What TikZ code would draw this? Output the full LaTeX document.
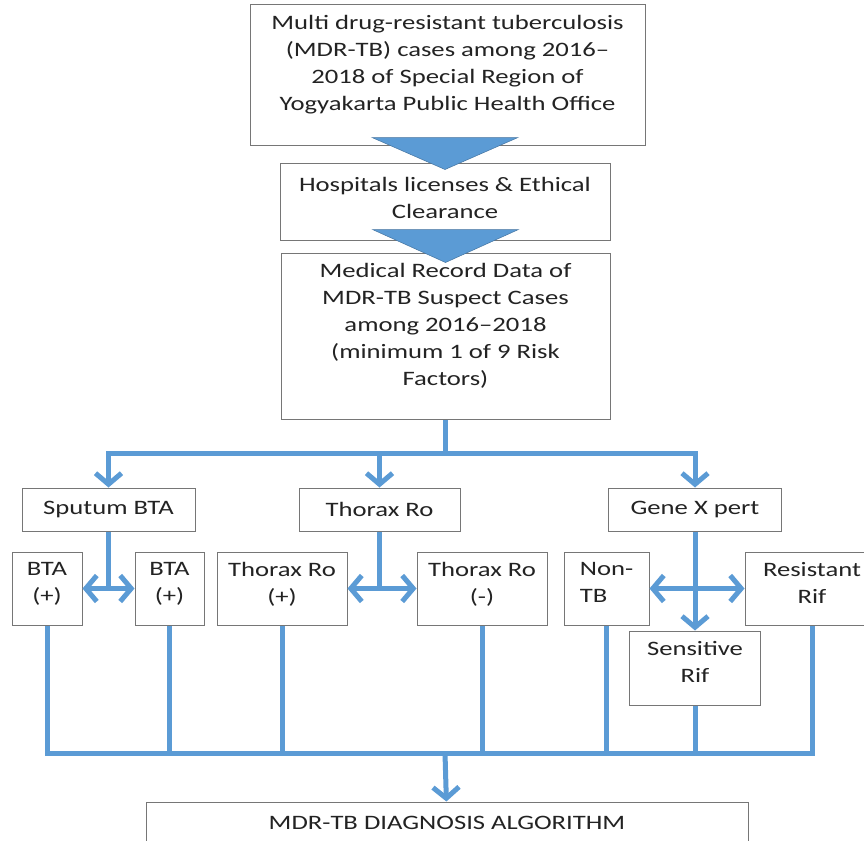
\documentclass[tikz,border=0pt]{standalone}
\usepackage{fontspec}
\setmainfont[FakeStretch=1.3]{Carlito}
\usetikzlibrary{arrows.meta,calc}
\definecolor{flowblue}{RGB}{91,155,213}
\definecolor{framegray}{RGB}{118,118,118}
\definecolor{textgray}{RGB}{35,35,35}

\begin{document}
\begin{tikzpicture}[x=1pt, y=-1pt,
	every node/.style={font=\fontsize{20.5}{27}\selectfont, text=textgray},
	box/.style={draw=framegray, line width=1pt, fill=white, inner sep=0pt},
	boxlabel/.style={anchor=north, align=center, inner xsep=0pt, inner ysep=11pt},
	intext/.style={label={[boxlabel]north:{#1}}},
	flow/.style={draw=flowblue, line width=5pt},
	>={Straight Barb[length=11pt, width=26pt]}]
	\useasboundingbox (0,0) rectangle (864,840);
	\fill[white] (0,0) rectangle (864,840);
	\clip (0,0) rectangle (864,840);

	\node[box, minimum width=395pt, minimum height=140pt, intext={Multi drug-resistant tuberculosis\\(MDR-TB) cases among 2016--\\2018 of Special Region of\\Yogyakarta Public Health Office}] (cases) at (447.5,75) {};
	\node[box, minimum width=330pt, minimum height=77pt, label={[boxlabel, inner ysep=15pt]north:{Hospitals licenses \& Ethical\\Clearance}}] (hospital) at (445,201.5) {};
	\node[box, minimum width=329pt, minimum height=166pt, intext={Medical Record Data of\\MDR-TB Suspect Cases\\among 2016--2018\\(minimum 1 of 9 Risk\\Factors)}] (records) at (445.5,336) {};

	\node[box, minimum width=173pt, minimum height=43pt] (sputum) at (108.5,509.5) {Sputum BTA};
	\node[box, minimum width=161pt, minimum height=43pt] (thorax) at (379.5,509.5) {Thorax Ro};
	\node[box, minimum width=173pt, minimum height=43pt] (gene) at (695,509.5) {Gene X pert};

	\node[box, minimum width=70pt, minimum height=73pt, intext={BTA\\(+)}] (btaleft) at (47,588.5) {};
	\node[box, minimum width=69pt, minimum height=73pt, intext={BTA\\(+)}] (btaright) at (169.5,588.5) {};
	\node[box, minimum width=130pt, minimum height=73pt, intext={Thorax Ro\\(+)}] (thoraxpos) at (282,588.5) {};
	\node[box, minimum width=130pt, minimum height=73pt, intext={Thorax Ro\\(-)}] (thoraxneg) at (482,588.5) {};
	\node[box, minimum width=85pt, minimum height=73pt, label={[boxlabel, align=left]north:{Non-\\TB}}] (nontb) at (606.5,588.5) {};
	\node[box, minimum width=134pt, minimum height=73pt, intext={Resistant\\Rif}] (resistant) at (812,588.5) {};
	\node[box, minimum width=131pt, minimum height=74pt, intext={Sensitive\\Rif}] (sensitive) at (695,668) {};

	\node[box, minimum width=602pt, minimum height=42pt] (algo) at (447,823) {MDR-TB DIAGNOSIS ALGORITHM};

	% block arrows between the top boxes
	\fill[flowblue, draw=flowblue!75!black, line width=0.5pt] ($(hospital.north)+(-73,-25)$) -- ($(hospital.north)+(73,-25)$) -- ($(hospital.north)+(0,7)$) -- cycle;
	\fill[flowblue, draw=flowblue!75!black, line width=0.5pt] ($(records.north)+(-73,-23)$) -- ($(records.north)+(73,-23)$) -- ($(records.north)+(0,10)$) -- cycle;

	\draw[flow] (records.south) -- ++(0,34) coordinate (split);
	\draw[flow, ->] (split) -| (sputum);
	\draw[flow, ->] (split) -| (gene);
	\draw[flow, ->] (split -| thorax) -- (thorax);

	\draw[flow] (sputum) -- (sputum |- btaleft);
	\draw[flow, <->] (btaleft) -- (btaright);
	\draw[flow] (thorax) -- (thorax |- thoraxpos);
	\draw[flow, <->] (thoraxpos) -- (thoraxneg);
	\draw[flow, ->] (gene) -- (sensitive);
	\draw[flow, <->] (nontb) -- (resistant);

	% collect all results
	\coordinate (join) at (445,753);
	\draw[flow] (btaleft) |- (join) -| (resistant);
	\foreach \n in {btaright, thoraxpos, thoraxneg, nontb, sensitive}
		\draw[flow] (\n) -- (\n |- join);
	\draw[flow, ->] (join) -- (algo);
\end{tikzpicture}
\end{document}
